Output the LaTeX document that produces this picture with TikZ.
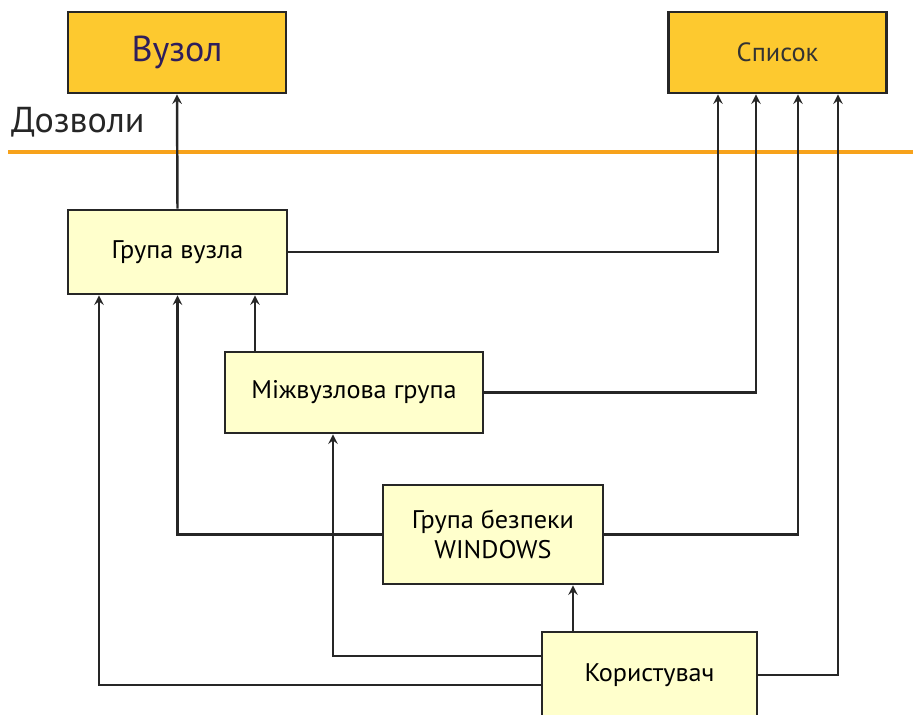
\documentclass[tikz,border=0pt]{standalone}
\usepackage{fontspec}
\setmainfont{PT Sans}
\newfontfamily\narrowfont{PT Sans}[FakeStretch=1.03]
\usetikzlibrary{arrows}
\definecolor{topfill}{HTML}{FDC92F}
\definecolor{boxfill}{HTML}{FFFFCC}
\definecolor{rule}{HTML}{F7A21B}
\definecolor{nodetext}{HTML}{2E1E5C}
\tikzstyle{topbox} = [rectangle, draw=black!85, line width=1.5pt, fill=topfill, minimum width=4.36cm, minimum height=1.62cm, text centered]
\tikzstyle{group} = [rectangle, draw=black!85, line width=1.5pt, fill=boxfill, text centered, font=\narrowfont\fontsize{14.5}{17}\selectfont, align=center]
\tikzstyle{arrow} = [line width=1.4pt, draw=black!85, ->, >=stealth]

\begin{document}
\begin{tikzpicture}[x=0.02cm, y=-0.02cm]
            \useasboundingbox (0,0) rectangle (913,715);
            \node [topbox, font=\fontsize{20.5}{24}\selectfont, text=nodetext] at (177,52.5) (vuzol) {Вузол};
            \node [topbox, font=\fontsize{15}{18}\selectfont, text=black!80] at (777.5,52.5) (spysok) {Список};
            \node [anchor=west, font=\fontsize{20.5}{24}\selectfont, text=black!85] at (5,122) (dozvoly) {Дозволи};
            \coordinate (ruleA) at (8,152);
            \coordinate (ruleB) at (913,152);
            \draw [rule, line width=2.6pt] (ruleA) -- (ruleB);

            \node [group, minimum width=4.38cm, minimum height=1.68cm] at (177.5,252) (hrupa) {Група вузла};
            \node [group, minimum width=5.16cm, minimum height=1.62cm] at (354,392.5) (mizh) {Міжвузлова група};
            \node [group, minimum width=4.4cm, minimum height=1.98cm] at (493,534.5) (bezpeky) {Група безпеки\\WINDOWS};
            \node [group, minimum width=4.3cm, minimum height=1.72cm] at (649.5,675) (korys) {Користувач};

            \coordinate (m1) at ([xshift=-1.98cm]mizh.north);
            \coordinate (k1) at ([xshift=-1.53cm]korys.north);

            \draw [arrow] (hrupa.north) -- (vuzol.south);
            \draw [arrow] (hrupa.east) -| ([xshift=-1.19cm]spysok.south);
            \draw [arrow] (m1) -- (m1 |- hrupa.south);
            \draw [arrow] (mizh.east) -| ([xshift=-0.43cm]spysok.south);
            \draw [arrow] (bezpeky.west) -| (hrupa.south);
            \draw [arrow] (bezpeky.east) -| ([xshift=0.41cm]spysok.south);
            \draw [arrow] (k1) -- (k1 |- bezpeky.south);
            \draw [arrow] ([yshift=0.38cm]korys.west) -| ([xshift=-0.42cm]mizh.south);
            \draw [arrow] ([yshift=-0.2cm]korys.west) -| ([xshift=-1.57cm]hrupa.south);
            \draw [arrow] (korys.east) -| ([xshift=1.21cm]spysok.south);
\end{tikzpicture}
\end{document}
